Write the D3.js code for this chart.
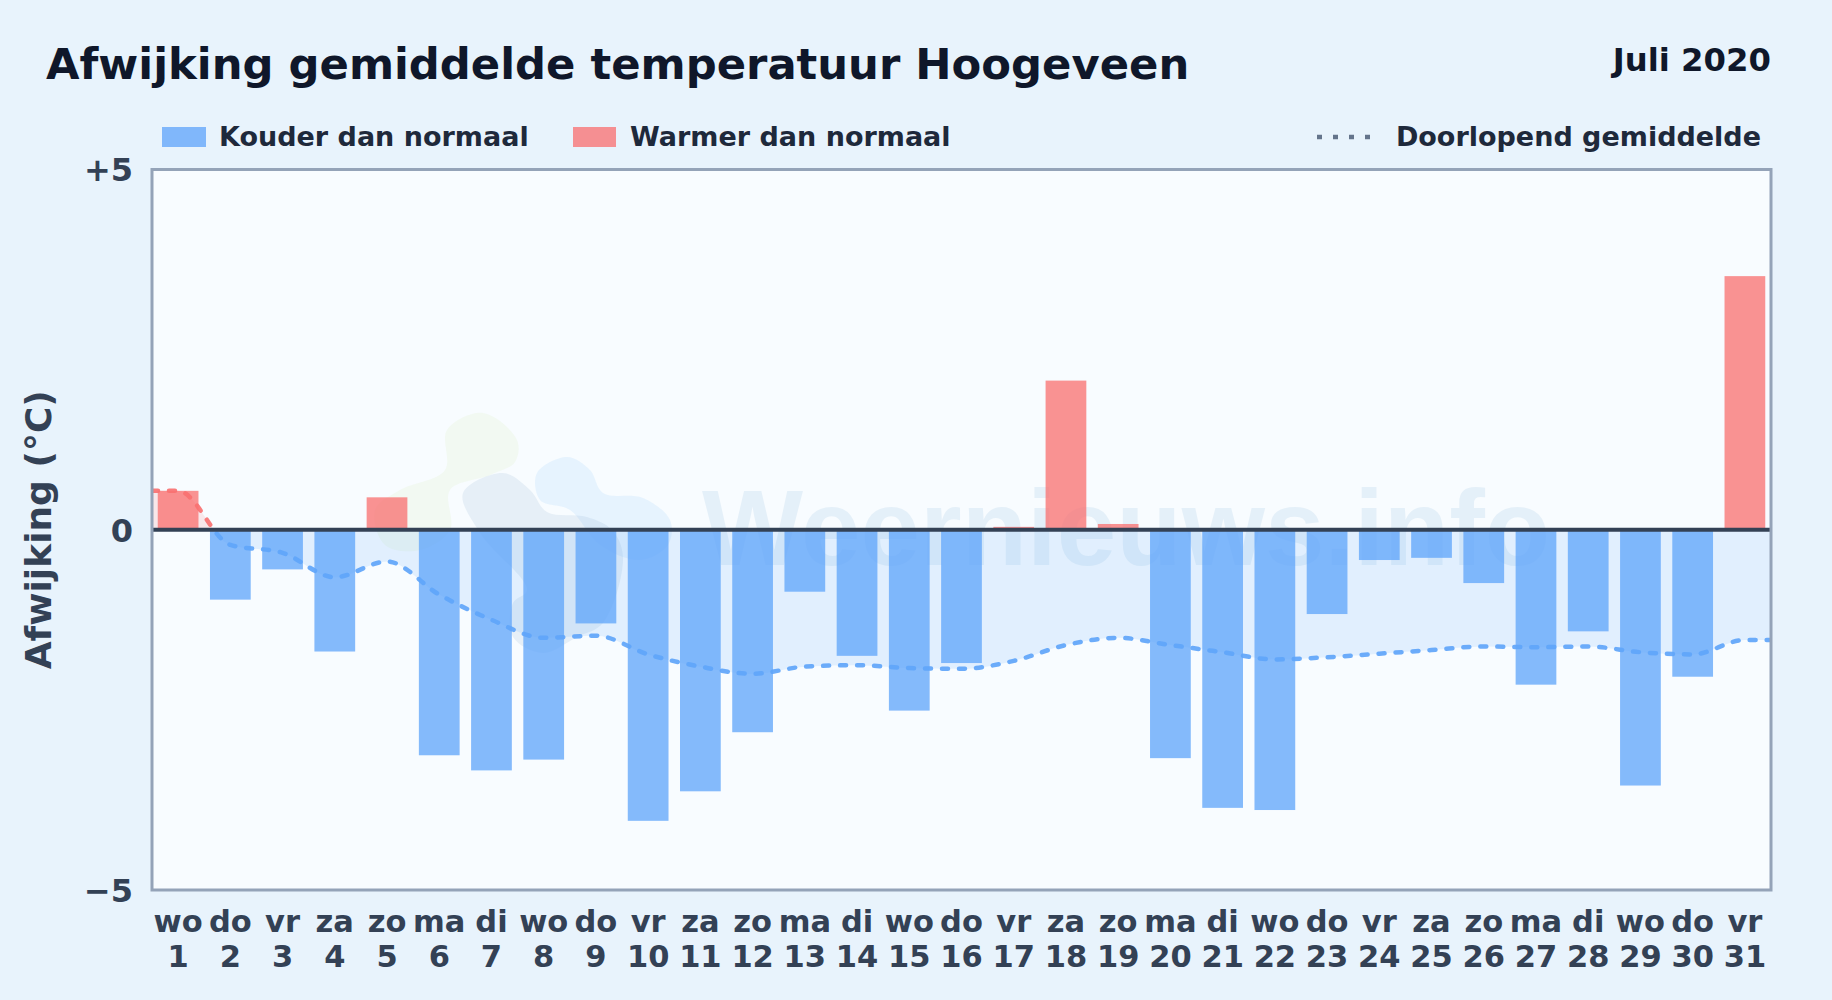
<!DOCTYPE html>
<html lang="nl">
<head>
<meta charset="UTF-8">
<title>Afwijking gemiddelde temperatuur Hoogeveen</title>
<script src="https://cdn.jsdelivr.net/npm/d3@7"></script>
<style>
  html, body { margin: 0; padding: 0; background: #e8f3fc; }
  svg { display: block; font-family: "DejaVu Sans", sans-serif; font-weight: bold; }
</style>
</head>
<body>
<script>
// dagen van de maand
var weekdays = ['wo','do','vr','za','zo','ma','di','wo','do','vr','za','zo','ma','di','wo','do','vr','za','zo','ma','di','wo','do','vr','za','zo','ma','di','wo','do','vr']
var days = [1,2,3,4,5,6,7,8,9,10,11,12,13,14,15,16,17,18,19,20,21,22,23,24,25,26,27,28,29,30,31]
// afwijking per dag (graden C)
var anomaly = [0.54,-0.97,-0.55,-1.69,0.45,-3.13,-3.34,-3.19,-1.30,-4.04,-3.63,-2.81,-0.86,-1.75,-2.51,-1.85,0.04,2.07,0.08,-3.17,-3.86,-3.89,-1.17,-0.42,-0.39,-0.74,-2.15,-1.41,-3.55,-2.04,3.52]
// doorlopend gemiddelde, inclusief de uiteinden aan de rand van het vlak
var avgDays = [0.5,1,2,3,4,5,6,7,8,9,10,11,12,13,14,15,16,17,18,19,20,21,22,23,24,25,26,27,28,29,30,31,31.5]
var runningAvg = [0.54,0.54,-0.21,-0.32,-0.66,-0.44,-0.90,-1.25,-1.50,-1.47,-1.73,-1.90,-2.00,-1.90,-1.88,-1.92,-1.93,-1.82,-1.60,-1.50,-1.60,-1.70,-1.80,-1.77,-1.72,-1.67,-1.62,-1.63,-1.62,-1.70,-1.73,-1.53,-1.53]
var yTicks = [5,0,-5]
var yTickLabels = ['+5','0','\u22125']

var width = 1832
    height = 1000
    padding = {top: 169.5, right: 61, bottom: 110, left: 152}
    blue = '#60a5fa'
    red = '#f87171'

var svg = d3.select('body').append('svg')
    .attr('width', width)
    .attr('height', height)

var defs = svg.append('defs')

var xBand = d3.scaleBand()
    .domain(days)
    .range([padding.left, width - padding.right])
    .paddingInner(0.22)
    .paddingOuter(0.11)
var xLine = d3.scaleLinear()
    .domain([0.5, 31.5])
    .range([padding.left, width - padding.right])
var y = d3.scaleLinear()
    .domain([-5, 5])
    .range([height - padding.bottom, padding.top])

var plotW = width - padding.left - padding.right
    plotH = height - padding.top - padding.bottom

defs.append('clipPath').attr('id', 'above').append('rect')
    .attr('x', padding.left).attr('y', padding.top)
    .attr('width', plotW).attr('height', y(0) - padding.top)
defs.append('clipPath').attr('id', 'below').append('rect')
    .attr('x', padding.left).attr('y', y(0))
    .attr('width', plotW).attr('height', height - padding.bottom - y(0))

// titel
svg.append('text').attr('x', 46).attr('y', 79)
    .attr('font-size', 43.3).attr('fill', '#0f172a')
    .text('Afwijking gemiddelde temperatuur Hoogeveen')
svg.append('text').attr('x', 1771).attr('y', 71)
    .attr('font-size', 32.3).attr('fill', '#0f172a').attr('text-anchor', 'end')
    .text('Juli 2020')

// legenda
svg.append('rect').attr('x', 162).attr('y', 127).attr('width', 44).attr('height', 20)
    .attr('fill', blue).attr('opacity', 0.77)
svg.append('text').attr('x', 219).attr('y', 146).attr('font-size', 27).attr('fill', '#1e293b')
    .text('Kouder dan normaal')
svg.append('rect').attr('x', 573).attr('y', 127).attr('width', 43).attr('height', 20)
    .attr('fill', red).attr('opacity', 0.77)
svg.append('text').attr('x', 630).attr('y', 146).attr('font-size', 27).attr('fill', '#1e293b')
    .text('Warmer dan normaal')
svg.append('line').attr('x1', 1317).attr('x2', 1375).attr('y1', 137).attr('y2', 137)
    .attr('stroke', '#64748b').attr('stroke-width', 4.5).attr('stroke-dasharray', '5 11')
svg.append('text').attr('x', 1761).attr('y', 146).attr('font-size', 27).attr('fill', '#1e293b')
    .attr('text-anchor', 'end').text('Doorlopend gemiddelde')

// plotvlak
svg.append('rect')
    .attr('x', padding.left).attr('y', padding.top)
    .attr('width', plotW).attr('height', plotH)
    .attr('fill', '#f8fcff')

// watermerk: logo en naam
var blobLine = d3.line().curve(d3.curveCatmullRomClosed)
var logoGreen = [[447,430],[483,413],[517,440],[515,462],[490,475],[450,490],[450,530],[420,550],[385,545],[375,510],[400,490],[445,470]]
var logoBlue = [[537,473],[567,457],[590,470],[603,493],[643,498],[670,520],[668,545],[640,560],[600,545],[570,510],[540,500]]
var logoGrey = [[463,493],[503,473],[530,490],[547,512],[587,517],[612,530],[623,557],[603,623],[577,637],[543,653],[513,637],[513,603],[527,590],[480,533]]
svg.append('path').attr('d', blobLine(logoGreen)).attr('fill', '#d9ecb8').attr('opacity', 0.18)
svg.append('path').attr('d', blobLine(logoBlue)).attr('fill', '#a8d8fa').attr('opacity', 0.22)
svg.append('path').attr('d', blobLine(logoGrey)).attr('fill', '#6f96bd').attr('opacity', 0.12)
svg.append('text').attr('x', 702).attr('y', 565)
    .attr('font-family', '"Liberation Sans", sans-serif')
    .attr('font-size', 107).attr('fill', '#5f9fd0').attr('opacity', 0.12)
    .text('Weernieuws.info')

// vlak tussen gemiddelde en nul
var area = d3.area()
    .x((d, i) => xLine(avgDays[i]))
    .y0(y(0))
    .y1(d => y(d))
    .curve(d3.curveMonotoneX)
svg.append('path').datum(runningAvg).attr('d', area)
    .attr('fill', blue).attr('opacity', 0.15).attr('clip-path', 'url(#below)')
svg.append('path').datum(runningAvg).attr('d', area)
    .attr('fill', red).attr('opacity', 0.15).attr('clip-path', 'url(#above)')

// balken
svg.selectAll('.bar')
    .data(anomaly)
    .enter()
    .append('rect')
    .attr('class', 'bar')
    .attr('x', (d, i) => xBand(days[i]))
    .attr('y', d => d > 0 ? y(d) : y(0))
    .attr('width', xBand.bandwidth())
    .attr('height', d => Math.abs(y(d) - y(0)))
    .attr('fill', d => d > 0 ? red : blue)
    .attr('opacity', 0.77)

// lijn
var line = d3.line()
    .x((d, i) => xLine(avgDays[i]))
    .y(d => y(d))
    .curve(d3.curveMonotoneX)
svg.append('path').datum(runningAvg).attr('d', line)
    .attr('fill', 'none').attr('stroke', blue).attr('stroke-width', 4.5)
    .attr('stroke-dasharray', '6 11').attr('stroke-linecap', 'round').attr('opacity', 0.92)
    .attr('clip-path', 'url(#below)')
svg.append('path').datum(runningAvg).attr('d', line)
    .attr('fill', 'none').attr('stroke', red).attr('stroke-width', 4.5)
    .attr('stroke-dasharray', '6 11').attr('stroke-linecap', 'round').attr('opacity', 0.92)
    .attr('clip-path', 'url(#above)')

// nullijn en kader
svg.append('line')
    .attr('x1', padding.left).attr('x2', width - padding.right)
    .attr('y1', y(0)).attr('y2', y(0))
    .attr('stroke', '#334155').attr('stroke-width', 4)
svg.append('rect')
    .attr('x', padding.left).attr('y', padding.top)
    .attr('width', plotW).attr('height', plotH)
    .attr('fill', 'none').attr('stroke', '#94a3b8').attr('stroke-width', 3)

// assen
var yAxis = d3.axisLeft(y).tickValues(yTicks).tickSize(0).tickPadding(19)
    .tickFormat((d, i) => yTickLabels[i])
var gy = svg.append('g')
    .attr('transform', `translate(${padding.left}, 1)`)
    .call(yAxis)
gy.select('.domain').remove()
gy.selectAll('text').attr('font-size', 32).attr('fill', '#334155')
    .attr('font-family', '"DejaVu Sans", sans-serif').attr('font-weight', 'bold')

var xAxis = d3.axisBottom(xBand).tickSize(0).tickFormat('')
var gx = svg.append('g')
    .attr('transform', `translate(0, ${height - padding.bottom})`)
    .call(xAxis)
gx.select('.domain').remove()
gx.selectAll('.tick text').remove()
gx.selectAll('.tick').each(function (d, i) {
    var t = d3.select(this).append('text')
        .attr('text-anchor', 'middle').attr('font-size', 30.5).attr('fill', '#334155')
        .attr('font-family', '"DejaVu Sans", sans-serif').attr('font-weight', 'bold')
    t.append('tspan').attr('x', 0).attr('y', 42).text(weekdays[i])
    t.append('tspan').attr('x', 0).attr('y', 77).text(days[i])
})

svg.append('text')
    .attr('transform', `translate(51, ${y(0)}) rotate(-90)`)
    .attr('text-anchor', 'middle').attr('font-size', 36).attr('fill', '#334155')
    .text('Afwijking (\u00b0C)')
</script>
</body>
</html>
